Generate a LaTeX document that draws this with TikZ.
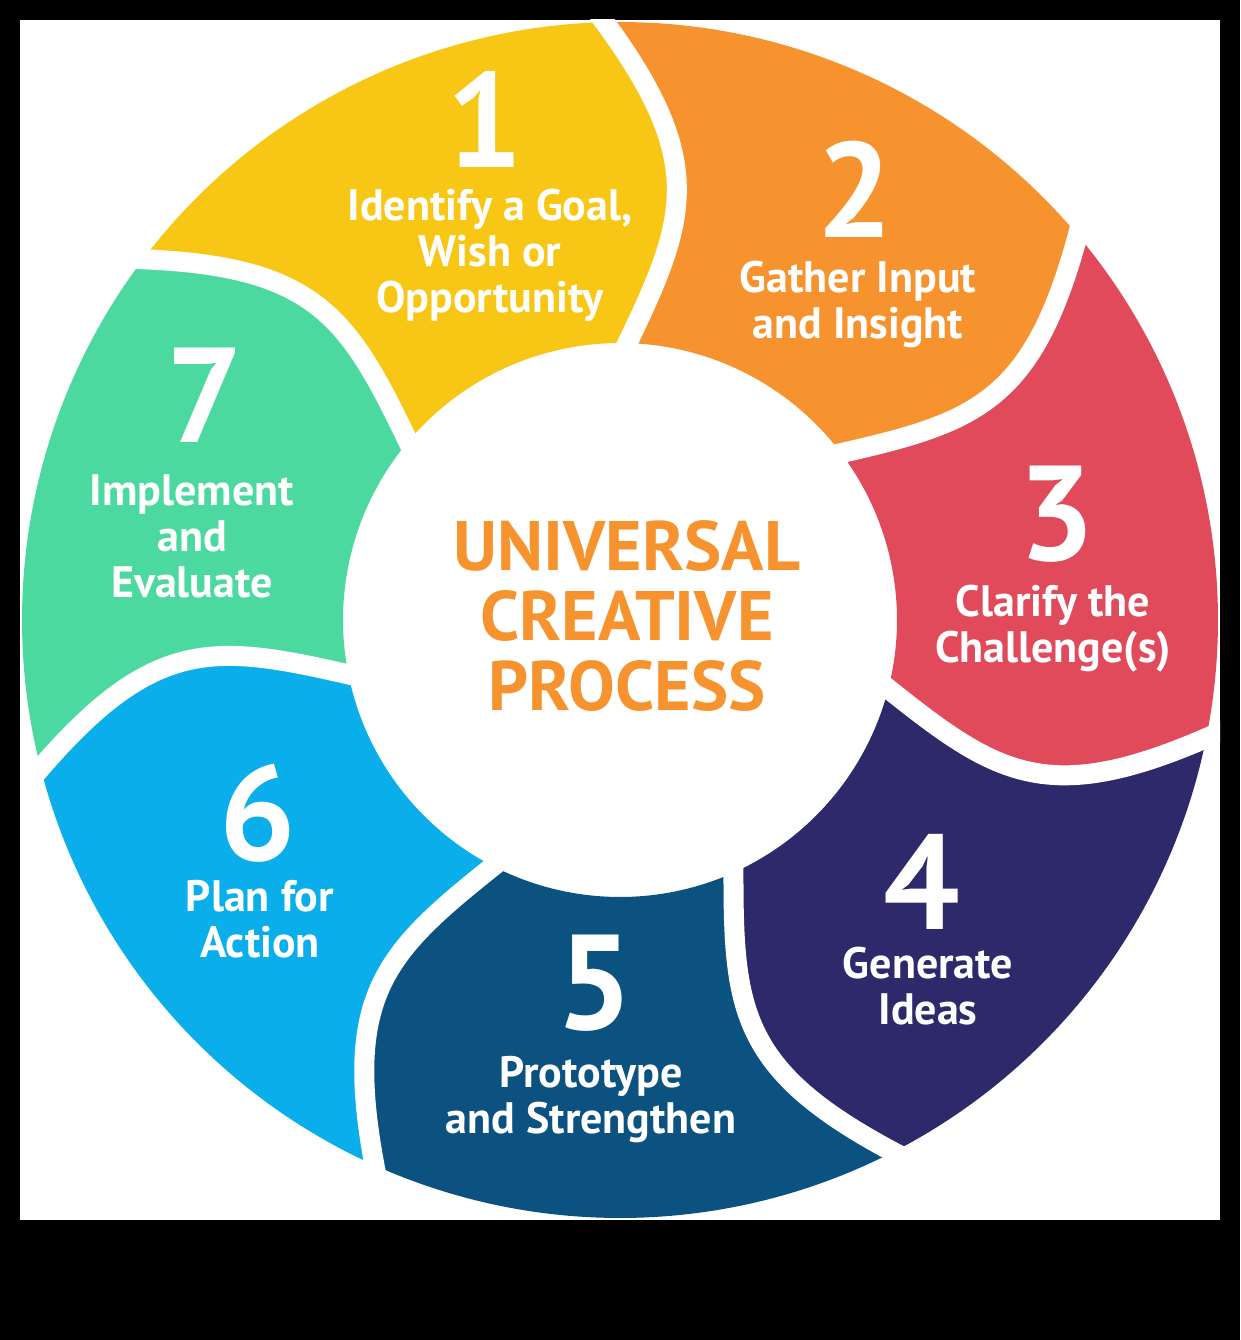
\documentclass[tikz,border=0pt]{standalone}
\usepackage{fontspec}
\setmainfont{PT Sans}
\usetikzlibrary{calc}

\definecolor{cjaune}{RGB}{248,198,20}
\definecolor{corange}{RGB}{247,147,46}
\definecolor{crouge}{RGB}{224,74,90}
\definecolor{cmarine}{RGB}{46,41,106}
\definecolor{cbleu}{RGB}{12,82,128}
\definecolor{cciel}{RGB}{10,174,235}
\definecolor{cvert}{RGB}{76,217,160}

\tikzset{chiffre/.style = {text=white, inner sep=0pt,
                           font=\fontsize{135}{135}\selectfont\bfseries},
         etiq/.style = {text=white, align=center, inner sep=0pt,
                        font=\fontsize{44}{46}\selectfont\bfseries},
         titre/.style = {text=corange, align=center, inner sep=0pt,
                         font=\fontsize{70}{70}\selectfont\bfseries},
         sep/.style = {white, line width=20pt}
        }

\begin{document}
\begin{tikzpicture}[x=1pt, y=1pt]
\fill[black] (0,0) rectangle (1240,-1340);
\fill[white] (20,-20) rectangle (1220,-1220);
\begin{scope}
\clip (20,-20) rectangle (1220,-1220);
\begin{scope}[shift={(620,-620)}]
 \foreach \c [count=\i from 0] in {cjaune,corange,crouge,cmarine,cbleu,cciel,cvert}{
   \pgfmathsetmacro\da{142.9-51.4286*\i}
   \pgfmathsetmacro\db{\da-51.4286}
   \fill[\c] ({\da}:598) arc[start angle=\da, end angle=\db, radius=598]
        .. controls ({\db-12.2}:466.6) and ({\db-11}:406.7) .. ({\db-3}:277)
        arc[start angle=\db-3, end angle=\da-3, radius=277]
        .. controls ({\da-11}:406.7) and ({\da-12.2}:466.6) .. ({\da}:598) -- cycle;
 }
 \foreach \i in {0,...,6}{
   \pgfmathsetmacro\da{142.9-51.4286*\i}
   \draw[sep] ($({\da}:598)!-0.15!({\da-12.2}:466.6)$) -- ({\da}:598)
        .. controls ({\da-12.2}:466.6) and ({\da-11}:406.7) .. ({\da-3}:277)
        -- ($({\da-3}:277)!-0.15!({\da-11}:406.7)$);
 }
\end{scope}
\end{scope}

\node[chiffre] (n1) at (485,-119) {1};
\node[etiq] (t1) at (490,-255) {Identify a Goal,\\Wish or\\Opportunity};
\node[chiffre] (n2) at (855,-189) {2};
\node[etiq] (t2) at (858,-304) {Gather Input\\and Insight};
\node[chiffre] (n3) at (1057,-514) {3};
\node[etiq] (t3) at (1053,-629) {Clarify the\\Challenge(s)};
\node[chiffre] (n4) at (922,-882) {4};
\node[etiq] (t4) at (928,-986) {Generate\\Ideas};
\node[chiffre] (n5) at (595,-983) {5};
\node[etiq] (t5) at (591,-1100) {Prototype\\and Strengthen};
\node[chiffre] (n6) at (258,-813) {6};
\node[etiq] (t6) at (260,-919) {Plan for\\Action};
\node[chiffre] (n7) at (205,-395) {7};
\node[etiq] (t7) at (192,-536) {Implement\\and\\Evaluate};

\node[titre] (titre) at (627,-616) {UNIVERSAL\\CREATIVE\\PROCESS};
\end{tikzpicture}
\end{document}
